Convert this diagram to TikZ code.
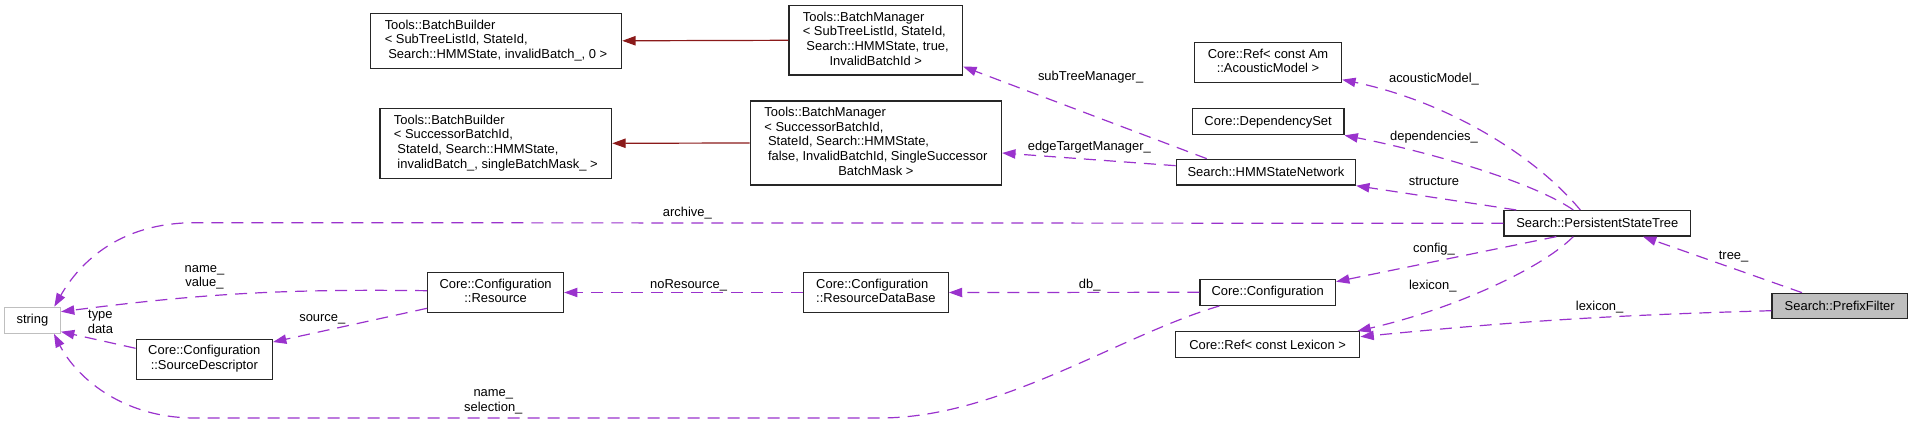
\documentclass[tikz,border=0pt]{standalone}
\usepackage{fontspec}
\setmainfont{Liberation Sans}
\usetikzlibrary{arrows.meta,calc}

\definecolor{edgepurple}{HTML}{9A32CD}
\definecolor{edgered}{HTML}{8B1A1A}
\definecolor{nodegray}{HTML}{BFBFBF}
% last line of a class label is centred, the others left aligned
\newcommand{\lastline}[1]{\multicolumn{1}{@{}c@{}}{#1}}

\begin{document}
\begin{tikzpicture}[x={(0.75pt,0pt)}, y={(0pt,-0.75pt)},
    every node/.style={font=\fontsize{9.7}{10.95}\selectfont, inner sep=0pt},
    cls/.style={draw=black!85, line width=1pt, fill=white},
    lbl/.style={align=center},
    member/.style={edgepurple, line width=0.9pt, dash pattern=on 9pt off 6pt,
                   -{Triangle[length=10pt,width=7pt]}},
    inherit/.style={edgered, line width=0.9pt, -{Triangle[length=10pt,width=7pt]}}]

    \useasboundingbox (0,0) rectangle (1912,423);

    % Classes
    \node[cls, minimum width=188.3pt, minimum height=41.3pt] (bbSub) at (496,40.8)
        {\begin{tabular}{@{}l@{}}Tools::BatchBuilder\\< SubTreeListId, StateId,\\
         \lastline{\ Search::HMMState, invalidBatch\_, 0 >}\end{tabular}};
    \node[cls, minimum width=173.7pt, minimum height=52.5pt] (bbSucc) at (495.8,143.3)
        {\begin{tabular}{@{}l@{}}Tools::BatchBuilder\\< SuccessorBatchId,\\
         \ StateId, Search::HMMState,\\\lastline{\ invalidBatch\_, singleBatchMask\_ >}\end{tabular}};
    \node[cls, minimum width=130.1pt, minimum height=52pt] (bmSub) at (875.8,40.3)
        {\begin{tabular}{@{}l@{}}Tools::BatchManager\\< SubTreeListId, StateId,\\
         \ Search::HMMState, true,\\\lastline{InvalidBatchId >}\end{tabular}};
    \node[cls, minimum width=188.3pt, minimum height=63pt] (bmSucc) at (875.9,143)
        {\begin{tabular}{@{}l@{}}Tools::BatchManager\\< SuccessorBatchId,\\
         \ StateId, Search::HMMState,\\\ false, InvalidBatchId, SingleSuccessor\\
         \lastline{BatchMask >}\end{tabular}};
    \node[cls, minimum width=110.3pt, minimum height=30pt] (refAm) at (1268,62.7)
        {\begin{tabular}{@{}l@{}}Core::Ref< const Am\\\lastline{::AcousticModel >}\end{tabular}};
    \node[cls, minimum width=113.6pt, minimum height=19.5pt] (depSet) at (1268.1,121.7)
        {Core::DependencySet};
    \node[cls, minimum width=134.3pt, minimum height=19.3pt] (hmmNet) at (1265.9,172.2)
        {Search::HMMStateNetwork};
    \node[cls, minimum width=140pt, minimum height=19pt] (pst) at (1597.3,223.3)
        {Search::PersistentStateTree};
    \node[cls, fill=nodegray, minimum width=101.6pt, minimum height=19pt] (prefix) at (1839.7,306)
        {Search::PrefixFilter};
    \node[cls, minimum width=101.5pt, minimum height=19.5pt] (config) at (1267.7,292.3)
        {Core::Configuration};
    \node[cls, minimum width=138.3pt, minimum height=19.2pt] (refLex) at (1267.6,344.5)
        {Core::Ref< const Lexicon >};
    \node[cls, minimum width=108.5pt, minimum height=30.3pt] (resDb) at (875.9,292.5)
        {\begin{tabular}{@{}l@{}}Core::Configuration\\\lastline{::ResourceDataBase}\end{tabular}};
    \node[cls, minimum width=101.8pt, minimum height=30.3pt] (resource) at (495.6,292.5)
        {\begin{tabular}{@{}l@{}}Core::Configuration\\\lastline{::Resource}\end{tabular}};
    \node[cls, minimum width=102.1pt, minimum height=30pt] (srcDesc) at (204.3,359.3)
        {\begin{tabular}{@{}l@{}}Core::Configuration\\\lastline{::SourceDescriptor}\end{tabular}};
    \node[cls, draw=nodegray, minimum width=41.9pt, minimum height=19.5pt] (str) at (32.4,320.3)
        {string};

    % Inheritance
    \draw[inherit] (bmSub.west) -- (bbSub.east);
    \draw[inherit] (bmSucc.west) -- (bbSucc.east);

    % Members
    \draw[member] ($(hmmNet.north west)+(31,0)$) -- ($(bmSub.south east)+(0,-9)$);
    \draw[member] ($(hmmNet.west)+(0,-6.5)$) -- ($(bmSucc.east)+(0,10)$);
    \draw[member] ($(pst.north)+(-17,0)$) .. controls (1530,150) and (1440,100) .. ($(refAm.south east)+(0,-3.7)$);
    \draw[member] ($(pst.north)+(-24,0)$) .. controls (1530,180) and (1420,150) .. (depSet.south east);
    \draw[member] ($(pst.north west)+(13,0)$) -- (hmmNet.south east);
    \draw[member] (pst.west) -- (195,222.7) .. controls (120,222.7) and (80,262) .. ($(str.north east)+(-6.7,0)$);
    \draw[member] ($(pst.south)+(-41,0)$) -- ($(config.east)+(0,-10.6)$);
    \draw[member] ($(pst.south)+(-24,0)$) .. controls (1540,270) and (1450,310) .. ($(refLex.north east)+(-3,0)$);
    \draw[member] ($(prefix.north)+(-37.7,0)$) -- ($(pst.south)+(45.7,0)$);
    \draw[member] ($(prefix.west)+(0,4.7)$) to[bend right=2] ($(refLex.east)+(0,-7.8)$);
    \draw[member] (config.west) -- (resDb.east);
    \draw[member] (resDb.west) -- (resource.east);
    \draw[member] ($(resource.west)+(0,-1.8)$) to[bend right=4] ($(str.east)+(0,-8.6)$);
    \draw[member] ($(resource.west)+(0,15.8)$) -- ($(srcDesc.north east)+(0,3.4)$);
    \draw[member] ($(srcDesc.west)+(0,-11)$) -- ($(str.east)+(0,11.4)$);
    \draw[member] ($(config.south west)+(20,0)$) .. controls (1120,335) and (1000,418) .. (880,418)
        -- (195,418) .. controls (120,418) and (75,375) .. ($(str.south east)+(-7,0)$);

    % Edge labels
    \node[lbl] (lSubTree) at (1090.6,77.3) {subTreeManager\_};
    \node[lbl] (lEdgeTarget) at (1089.3,146.7) {edgeTargetManager\_};
    \node[lbl] (lAcoustic) at (1434,79.3) {acousticModel\_};
    \node[lbl] (lDepend) at (1434,136.7) {dependencies\_};
    \node[lbl] (lStruct) at (1434,181.7) {structure};
    \node[lbl] (lArchive) at (687.4,213) {archive\_};
    \node[lbl] (lConfig) at (1434,249) {config\_};
    \node[lbl] (lLexTree) at (1432.8,286) {lexicon\_};
    \node[lbl] (lLexPrefix) at (1599.6,306.7) {lexicon\_};
    \node[lbl] (lTree) at (1733.6,256.7) {tree\_};
    \node[lbl] (lDb) at (1089.7,285) {db\_};
    \node[lbl] (lNoRes) at (688.6,285) {noResource\_};
    \node[lbl] (lNameValue) at (204.5,277.5) {name\_\\value\_};
    \node[lbl] (lSource) at (322.3,319) {source\_};
    \node[lbl] (lTypeData) at (100.4,322) {type\\data};
    \node[lbl] (lNameSel) at (493.3,401.8) {name\_\\selection\_};
\end{tikzpicture}
\end{document}
